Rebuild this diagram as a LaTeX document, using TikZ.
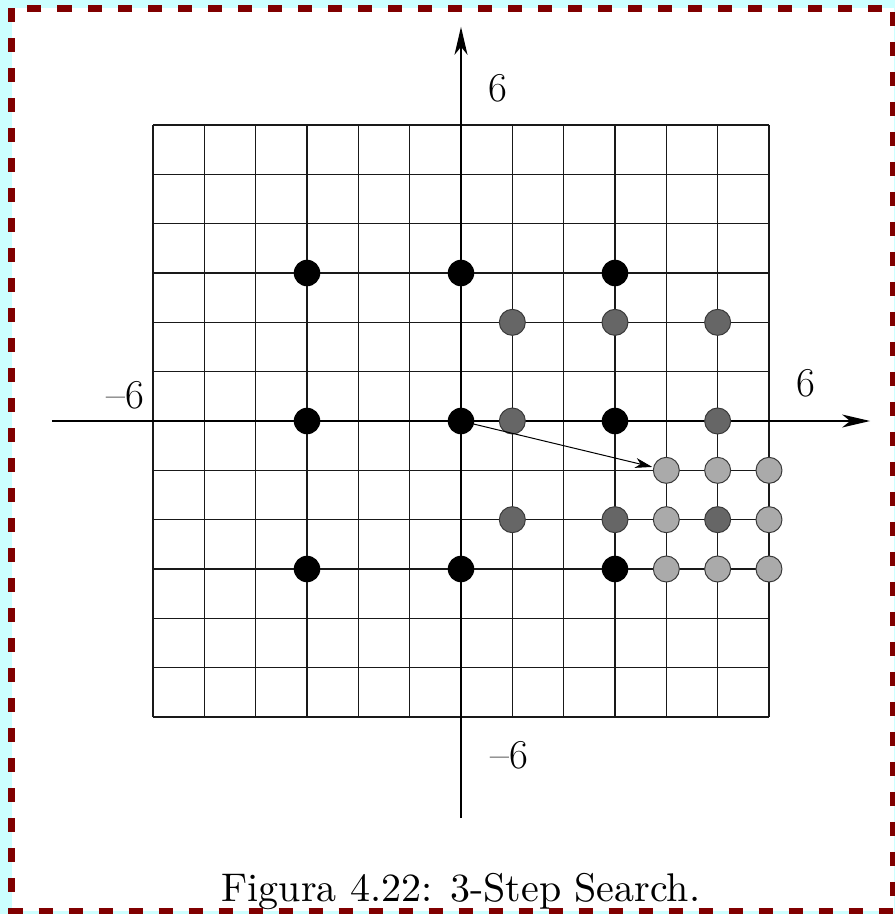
\documentclass[tikz,border=0pt]{standalone}
\usetikzlibrary{arrows.meta}
\definecolor{bgcyan}{HTML}{CCFFFF}
\definecolor{framered}{HTML}{800000}
\definecolor{dotdark}{HTML}{666666}
\definecolor{dotlight}{HTML}{AAAAAA}
\definecolor{dotrim}{HTML}{3A3A3A}
\tikzset{
  gridline/.style={line width=1.2pt, draw=black!90},
  axisline/.style={line width=1.5pt, -{Stealth[length=28pt,width=13pt,inset=8pt]}},
  movearrow/.style={line width=1pt, -{Stealth[length=17pt,width=10pt,inset=5pt]}, shorten <=0pt, shorten >=1pt},
  blackdot/.style={circle, fill=black, minimum size=26.5pt, inner sep=0pt},
  darkdot/.style={circle, fill=dotdark, draw=dotrim, line width=1pt, minimum size=26pt, inner sep=0pt},
  lightdot/.style={circle, fill=dotlight, draw=dotrim, line width=1pt, minimum size=26pt, inner sep=0pt},
  axislabel/.style={font=\fontsize{41}{41}\selectfont, inner sep=0pt},
}
\begin{document}
\begin{tikzpicture}[x=1pt,y=-1pt]
\fill[bgcyan] (0,0) rectangle (895,914);
\useasboundingbox (0,0) rectangle (895,914);
\filldraw[fill=white, draw=framered, line width=7pt, dash pattern=on 14pt off 16pt] (11.5,8) rectangle (893.5,911);
\begin{scope}[shift={(461,421)}, x=51.33pt, y=49.33pt]
  \foreach \k in {-6,...,6} {
    \draw[gridline] (\k,-6) -- (\k,6);
    \draw[gridline] (-6,\k) -- (6,\k);
  }
  \coordinate (xl) at (-7.97,0);
  \coordinate (xr) at (7.97,0);
  \coordinate (yb) at (0,-8.05);
  \coordinate (yt) at (0,7.99);
  \draw[axisline] (xl) -- (xr);
  \draw[axisline] (yb) -- (yt);
  % step 1: black
  \foreach \i/\x/\y in {a/-3/3, b/0/3, c/3/3, d/-3/0, o/0/0, e/3/0, f/-3/-3, g/0/-3, h/3/-3}
    \node[blackdot] (b\i) at (\x,\y) {};
  % step 2: dark gray
  \foreach \i/\x/\y in {a/1/2, b/3/2, c/5/2, d/1/0, e/5/0, f/1/-2, g/3/-2, h/5/-2}
    \node[darkdot] (d\i) at (\x,\y) {};
  % step 3: light gray
  \foreach \i/\x/\y in {a/4/-1, b/5/-1, c/6/-1, d/4/-2, e/6/-2, f/4/-3, g/5/-3, h/6/-3}
    \node[lightdot] (l\i) at (\x,\y) {};
  \draw[movearrow] (bo) -- (la);
\end{scope}
\node[axislabel] (ytop) at (497.5,88.5) {6};
\node[axislabel] (xright) at (806,383.5) {6};
\node[axislabel] (xleft) at (125,395.5) {--6};
\node[axislabel] (ybot) at (509,755.5) {--6};
\node[inner sep=0pt, anchor=base] (caption) at (461,901) {\scalebox{4.0}{\fontsize{10}{12}\selectfont Figura 4.22: 3-Step Search.}};
\end{tikzpicture}
\end{document}
